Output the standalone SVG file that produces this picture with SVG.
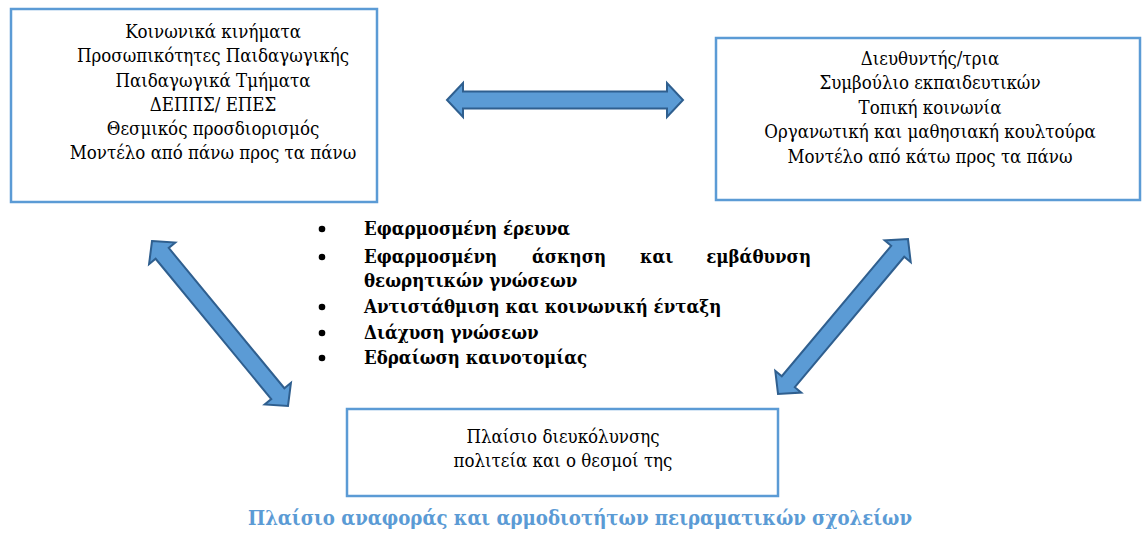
<svg xmlns="http://www.w3.org/2000/svg" width="1142" height="536" viewBox="0 0 1142 536">
<style>
.box{fill:#fff;stroke:#5b9bd5;stroke-width:2.5}
.t{font-family:"DejaVu Serif Condensed","DejaVu Serif",serif;font-stretch:condensed;font-size:18.5px;fill:#000;text-anchor:middle}
.b{font-family:"DejaVu Serif Condensed","DejaVu Serif",serif;font-stretch:condensed;font-size:18.5px;font-weight:bold;fill:#000}
.arr{fill:#5b9bd5;stroke:#2f5f8f;stroke-width:2;stroke-linejoin:miter}
.cap{font-family:"DejaVu Serif Condensed","DejaVu Serif",serif;font-stretch:condensed;font-size:20.2px;font-weight:bold;fill:#5b9bd5;text-anchor:middle}
</style>
<rect width="1142" height="536" fill="#fff"/>
<g id="connectors">
<polygon class="arr" transform="translate(565,100)" points="-118,0 -102,-17 -102,-8.5 102,-8.5 102,-17 118,0 102,17 102,8.5 -102,8.5 -102,17"/>
<polygon class="arr" transform="translate(220,323.5) rotate(50.5)" points="-106.9,0 -90.9,-17 -90.9,-8.5 90.9,-8.5 90.9,-17 106.9,0 90.9,17 90.9,8.5 -90.9,8.5 -90.9,17"/>
<polygon class="arr" transform="translate(843,316.5) rotate(-50)" points="-101.1,0 -85.1,-17 -85.1,-8.5 85.1,-8.5 85.1,-17 101.1,0 85.1,17 85.1,8.5 -85.1,8.5 -85.1,17"/>
</g>
<g id="node-left">
<rect class="box" x="11" y="9" width="366" height="193"/>
<text class="t" x="213" y="38">Κοινωνικά κινήματα</text>
<text class="t" x="213" y="62">Προσωπικότητες Παιδαγωγικής</text>
<text class="t" x="213" y="87">Παιδαγωγικά Τμήματα</text>
<text class="t" x="213" y="111">ΔΕΠΠΣ/ ΕΠΕΣ</text>
<text class="t" x="213" y="135">Θεσμικός προσδιορισμός</text>
<text class="t" x="213" y="159">Μοντέλο από πάνω προς τα πάνω</text>
</g>
<g id="node-right">
<rect class="box" x="716" y="38" width="424" height="162"/>
<text class="t" x="930" y="65">Διευθυντής/τρια</text>
<text class="t" x="930" y="89">Συμβούλιο εκπαιδευτικών</text>
<text class="t" x="930" y="114">Τοπική κοινωνία</text>
<text class="t" x="930" y="138">Οργανωτική και μαθησιακή κουλτούρα</text>
<text class="t" x="930" y="163">Μοντέλο από κάτω προς τα πάνω</text>
</g>
<g id="list">
<circle cx="322" cy="229" r="3.3"/>
<circle cx="322" cy="257" r="3.3"/>
<circle cx="322" cy="307" r="3.3"/>
<circle cx="322" cy="333" r="3.3"/>
<circle cx="322" cy="358" r="3.3"/>
<text class="b" x="364" y="235">Εφαρμοσμένη έρευνα</text>
<text class="b" y="263"><tspan x="364">Εφαρμοσμένη</tspan><tspan x="532">άσκηση</tspan><tspan x="640">και</tspan><tspan x="811" text-anchor="end">εμβάθυνση</tspan></text>
<text class="b" x="364" y="287">θεωρητικών γνώσεων</text>
<text class="b" x="364" y="313">Αντιστάθμιση και κοινωνική ένταξη</text>
<text class="b" x="364" y="339">Διάχυση γνώσεων</text>
<text class="b" x="364" y="364">Εδραίωση καινοτομίας</text>
</g>
<g id="node-bottom">
<rect class="box" x="347" y="409" width="431" height="87"/>
<text class="t" x="563" y="443">Πλαίσιο διευκόλυνσης</text>
<text class="t" x="563" y="467">πολιτεία και ο θεσμοί της</text>
</g>
<text class="cap" x="580" y="525">Πλαίσιο αναφοράς και αρμοδιοτήτων πειραματικών σχολείων</text>
</svg>
